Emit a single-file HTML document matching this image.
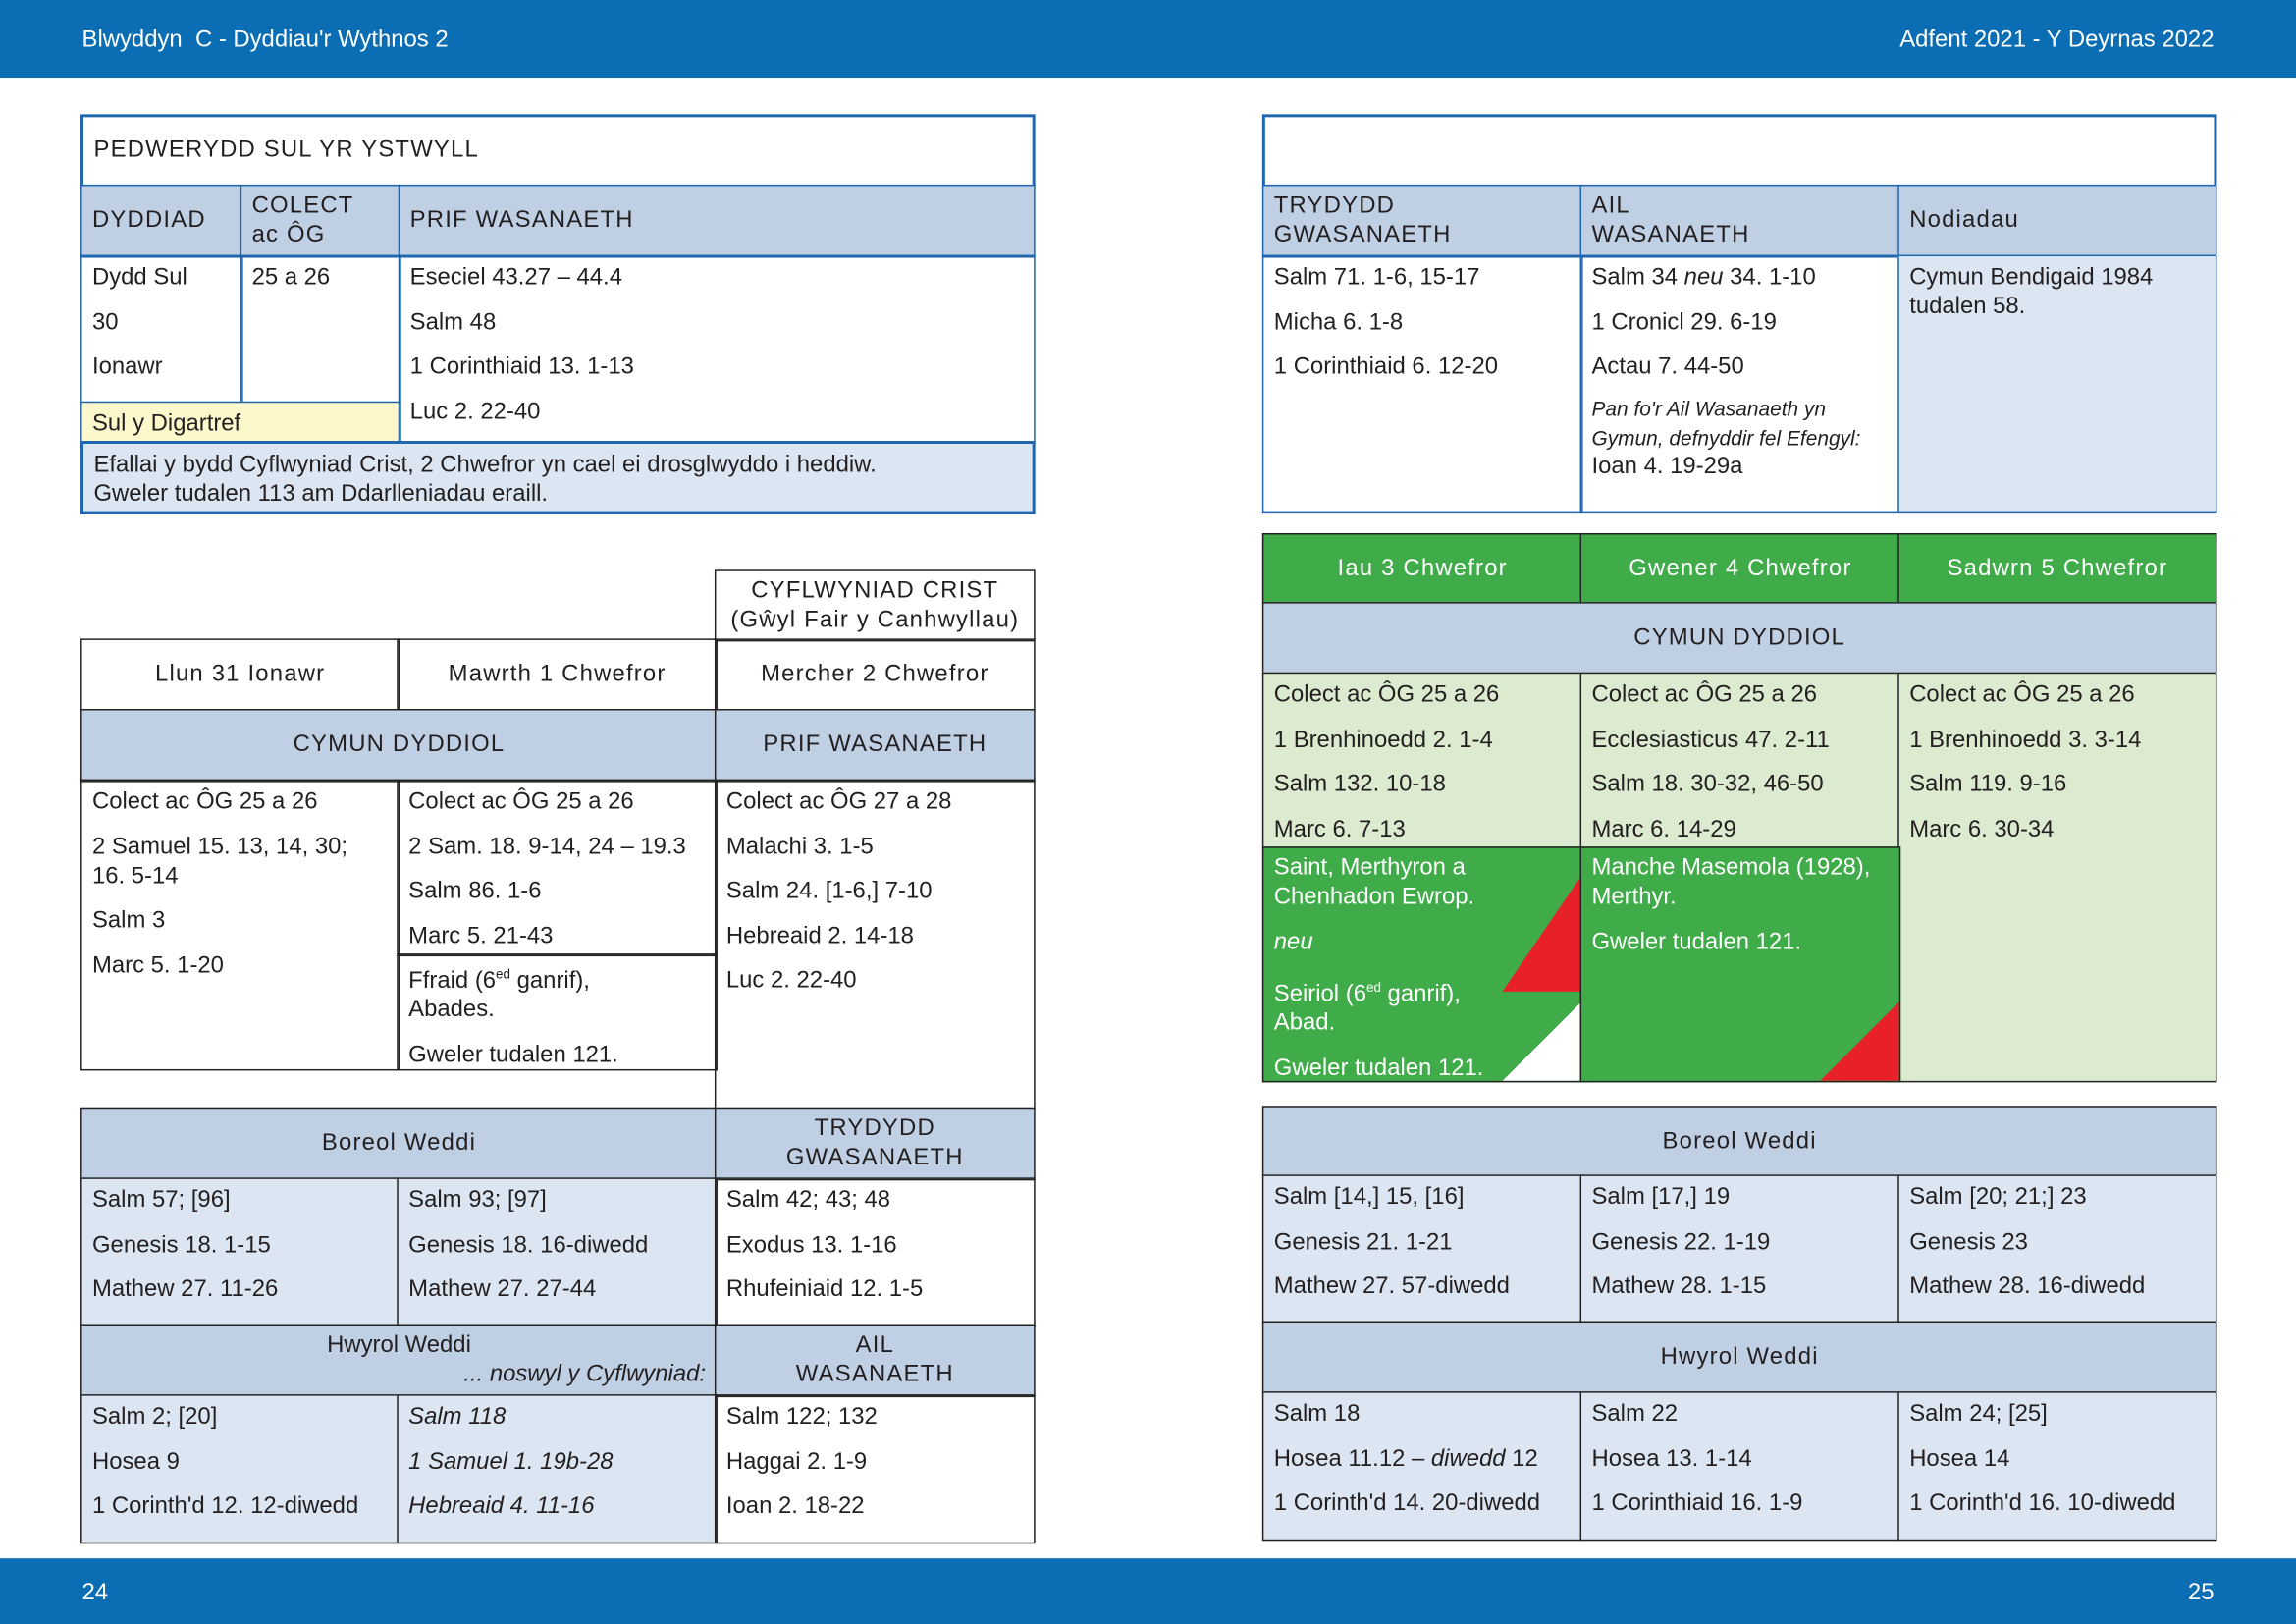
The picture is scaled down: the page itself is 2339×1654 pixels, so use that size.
<!DOCTYPE html>
<html><head><meta charset="utf-8">
<style>
html,body{margin:0;padding:0;}
body{width:2339px;height:1654px;overflow:hidden;background:#fff;font-family:"Liberation Sans",sans-serif;}
#w{position:absolute;left:0;top:0;width:1568px;height:1109px;transform:scale(1.49171);transform-origin:0 0;}
.bar{position:absolute;left:0;width:1568px;background:#0b6db4;color:#fff;font-size:16px;}
.c{position:absolute;box-sizing:border-box;border:1.5px solid #222;font-size:16px;color:#231f20;padding:5px 7px 0 7px;}
.b{border-color:#1f66b0;}
.c div{line-height:20px;margin-bottom:10.5px;white-space:nowrap;}
.h{display:flex;align-items:center;letter-spacing:0.8px;padding-top:0;}
.ctr{justify-content:center;text-align:center;}
.h div{margin:0;}
.lb{background:#c0d0e4;}
.lb2{background:#dce6f2;}
.lg{background:#dceacf;}
.g{background:#3fac49;color:#fff;}
.y{background:#fdf7cc;}
i{font-style:italic;}
.sm{font-size:14px;line-height:20px;}
</style></head><body>
<div id="w">
<div class="bar" style="top:0;height:53px;">
 <span style="position:absolute;left:56px;top:19px;">Blwyddyn&nbsp; C - Dyddiau'r Wythnos 2</span>
 <span style="position:absolute;right:56px;top:19px;">Adfent 2021 - Y Deyrnas 2022</span>
</div>
<div class="bar" style="top:1064px;height:45px;">
 <span style="position:absolute;left:56px;top:15px;">24</span>
 <span style="position:absolute;right:56px;top:15px;">25</span>
</div>

<div class="c b h" style="left:55px;top:78px;width:652px;height:50px;border-width:2px;"><div>PEDWERYDD SUL YR YSTWYLL</div></div>
<div class="c b h lb" style="left:55px;top:126px;width:111px;height:50px;"><div>DYDDIAD</div></div>
<div class="c b h lb" style="left:164px;top:126px;width:110px;height:50px;"><div>COLECT<br>ac ÔG</div></div>
<div class="c b h lb" style="left:272px;top:126px;width:435px;height:50px;"><div>PRIF WASANAETH</div></div>
<div class="c b" style="left:55px;top:174px;width:111px;height:102px;"><div>Dydd Sul</div><div>30</div><div>Ionawr</div></div>
<div class="c b" style="left:164px;top:174px;width:110px;height:102px;"><div>25 a 26</div></div>
<div class="c b y" style="left:55px;top:274px;width:219px;height:29px;padding-top:5px;"><div>Sul y Digartref</div></div>
<div class="c b" style="left:272px;top:174px;width:435px;height:129px;"><div>Eseciel 43.27 – 44.4</div><div>Salm 48</div><div>1 Corinthiaid 13. 1-13</div><div>Luc 2. 22-40</div></div>
<div class="c b lb2" style="left:55px;top:301px;width:652px;height:50px;border-width:2px;padding-top:5px;"><div style="line-height:20px;margin:0;">Efallai y bydd Cyflwyniad Crist, 2 Chwefror yn cael ei drosglwyddo i heddiw.<br>Gweler tudalen 113 am Ddarlleniadau eraill.</div></div>

<div class="c b" style="left:862px;top:78px;width:652px;height:50px;border-width:2px;"></div>
<div class="c b h lb" style="left:862px;top:126px;width:219px;height:50px;"><div>TRYDYDD<br>GWASANAETH</div></div>
<div class="c b h lb" style="left:1079px;top:126px;width:219px;height:50px;"><div>AIL<br>WASANAETH</div></div>
<div class="c b h lb" style="left:1296px;top:126px;width:218px;height:50px;"><div>Nodiadau</div></div>
<div class="c b" style="left:862px;top:174px;width:219px;height:176px;"><div>Salm 71. 1-6, 15-17</div><div>Micha 6. 1-8</div><div>1 Corinthiaid 6. 12-20</div></div>
<div class="c b" style="left:1079px;top:174px;width:219px;height:176px;"><div>Salm 34 <i>neu</i> 34. 1-10</div><div>1 Cronicl 29. 6-19</div><div>Actau 7. 44-50</div><div class="sm" style="margin:-3px 0 0;"><i>Pan fo'r Ail Wasanaeth yn<br>Gymun, defnyddir fel Efengyl:</i></div><div>Ioan 4. 19-29a</div></div>
<div class="c b lb2" style="left:1296px;top:174px;width:218px;height:176px;"><div style="line-height:20px;">Cymun Bendigaid 1984<br>tudalen 58.</div></div>

<div class="c h ctr" style="left:488px;top:389px;width:219px;height:49px;"><div style="line-height:20px;">CYFLWYNIAD CRIST<br>(Gŵyl Fair y Canhwyllau)</div></div>
<div class="c h ctr" style="left:55px;top:436px;width:218px;height:50px;"><div>Llun 31 Ionawr</div></div>
<div class="c h ctr" style="left:271px;top:436px;width:219px;height:50px;"><div>Mawrth 1 Chwefror</div></div>
<div class="c h ctr" style="left:488px;top:436px;width:219px;height:50px;"><div>Mercher 2 Chwefror</div></div>
<div class="c h ctr lb" style="left:55px;top:484px;width:435px;height:50px;"><div>CYMUN DYDDIOL</div></div>
<div class="c h ctr lb" style="left:488px;top:484px;width:219px;height:50px;"><div>PRIF WASANAETH</div></div>
<div class="c" style="left:55px;top:532px;width:218px;height:199px;"><div>Colect ac ÔG 25 a 26</div><div>2 Samuel 15. 13, 14, 30;<br>16. 5-14</div><div>Salm 3</div><div>Marc 5. 1-20</div></div>
<div class="c" style="left:271px;top:532px;width:219px;height:121px;"><div>Colect ac ÔG 25 a 26</div><div>2 Sam. 18. 9-14, 24 – 19.3</div><div>Salm 86. 1-6</div><div>Marc 5. 21-43</div></div>
<div class="c" style="left:271px;top:651px;width:219px;height:80px;padding-top:3px;"><div>Ffraid (6<sup style="font-size:9px;">ed</sup> ganrif),<br>Abades.</div><div>Gweler tudalen 121.</div></div>
<div class="c" style="left:488px;top:532px;width:219px;height:226px;"><div>Colect ac ÔG 27 a 28</div><div>Malachi 3. 1-5</div><div>Salm 24. [1-6,] 7-10</div><div>Hebreaid 2. 14-18</div><div>Luc 2. 22-40</div></div>

<div class="c h ctr lb" style="left:55px;top:756px;width:435px;height:50px;"><div>Boreol Weddi</div></div>
<div class="c h ctr lb" style="left:488px;top:756px;width:219px;height:50px;"><div style="line-height:20px;">TRYDYDD<br>GWASANAETH</div></div>
<div class="c lb2" style="left:55px;top:804px;width:218px;height:102px;"><div>Salm 57; [96]</div><div>Genesis 18. 1-15</div><div>Mathew 27. 11-26</div></div>
<div class="c lb2" style="left:271px;top:804px;width:219px;height:102px;"><div>Salm 93; [97]</div><div>Genesis 18. 16-diwedd</div><div>Mathew 27. 27-44</div></div>
<div class="c" style="left:488px;top:804px;width:219px;height:102px;"><div>Salm 42; 43; 48</div><div>Exodus 13. 1-16</div><div>Rhufeiniaid 12. 1-5</div></div>
<div class="c lb" style="left:55px;top:904px;width:435px;height:50px;padding-top:4px;"><div style="margin:0;text-align:center;">Hwyrol Weddi</div><div style="margin:0;text-align:right;"><i>... noswyl y Cyflwyniad:</i></div></div>
<div class="c h ctr lb" style="left:488px;top:904px;width:219px;height:50px;"><div style="line-height:20px;">AIL<br>WASANAETH</div></div>
<div class="c lb2" style="left:55px;top:952px;width:218px;height:102px;"><div>Salm 2; [20]</div><div>Hosea 9</div><div>1 Corinth'd 12. 12-diwedd</div></div>
<div class="c lb2" style="left:271px;top:952px;width:219px;height:102px;"><div><i>Salm 118</i></div><div><i>1 Samuel 1. 19b-28</i></div><div><i>Hebreaid 4. 11-16</i></div></div>
<div class="c" style="left:488px;top:952px;width:219px;height:102px;"><div>Salm 122; 132</div><div>Haggai 2. 1-9</div><div>Ioan 2. 18-22</div></div>

<div class="c h ctr g" style="left:862px;top:364px;width:219px;height:49px;"><div>Iau 3 Chwefror</div></div>
<div class="c h ctr g" style="left:1079px;top:364px;width:219px;height:49px;"><div>Gwener 4 Chwefror</div></div>
<div class="c h ctr g" style="left:1296px;top:364px;width:218px;height:49px;"><div>Sadwrn 5 Chwefror</div></div>
<div class="c h ctr lb" style="left:862px;top:411px;width:652px;height:50px;"><div>CYMUN DYDDIOL</div></div>
<div class="c lg" style="left:862px;top:459px;width:219px;height:121px;"><div>Colect ac ÔG 25 a 26</div><div>1 Brenhinoedd 2. 1-4</div><div>Salm 132. 10-18</div><div>Marc 6. 7-13</div></div>
<div class="c lg" style="left:1079px;top:459px;width:219px;height:121px;"><div>Colect ac ÔG 25 a 26</div><div>Ecclesiasticus 47. 2-11</div><div>Salm 18. 30-32, 46-50</div><div>Marc 6. 14-29</div></div>
<div class="c lg" style="left:1296px;top:459px;width:218px;height:280px;"><div>Colect ac ÔG 25 a 26</div><div>1 Brenhinoedd 3. 3-14</div><div>Salm 119. 9-16</div><div>Marc 6. 30-34</div></div>
<div class="c g" style="left:862px;top:578px;width:219px;height:161px;overflow:hidden;padding-top:4px;">
 <svg style="position:absolute;right:0;bottom:0;" width="60" height="160"><polygon points="60,20 60,99 6,99" fill="#e8202a"/><polygon points="60,106 60,160 6,160" fill="#fff"/></svg>
 <div style="position:relative;">Saint, Merthyron a<br>Chenhadon Ewrop.</div><div style="position:relative;"><i>neu</i></div><div style="position:relative;">Seiriol (6<sup style="font-size:9px;">ed</sup> ganrif),<br>Abad.</div><div style="position:relative;">Gweler tudalen 121.</div></div>
<div class="c g" style="left:1079px;top:578px;width:219px;height:161px;overflow:hidden;padding-top:4px;">
 <svg style="position:absolute;right:0;bottom:0;" width="60" height="60"><polygon points="60,6 60,60 6,60" fill="#e8202a"/></svg>
 <div>Manche Masemola (1928),<br>Merthyr.</div><div>Gweler tudalen 121.</div></div>

<div class="c h ctr lb" style="left:862px;top:755px;width:652px;height:49px;"><div>Boreol Weddi</div></div>
<div class="c lb2" style="left:862px;top:802px;width:219px;height:102px;"><div>Salm [14,] 15, [16]</div><div>Genesis 21. 1-21</div><div>Mathew 27. 57-diwedd</div></div>
<div class="c lb2" style="left:1079px;top:802px;width:219px;height:102px;"><div>Salm [17,] 19</div><div>Genesis 22. 1-19</div><div>Mathew 28. 1-15</div></div>
<div class="c lb2" style="left:1296px;top:802px;width:218px;height:102px;"><div>Salm [20; 21;] 23</div><div>Genesis 23</div><div>Mathew 28. 16-diwedd</div></div>
<div class="c h ctr lb" style="left:862px;top:902px;width:652px;height:50px;"><div>Hwyrol Weddi</div></div>
<div class="c lb2" style="left:862px;top:950px;width:219px;height:102px;"><div>Salm 18</div><div>Hosea 11.12 – <i>diwedd</i> 12</div><div>1 Corinth'd 14. 20-diwedd</div></div>
<div class="c lb2" style="left:1079px;top:950px;width:219px;height:102px;"><div>Salm 22</div><div>Hosea 13. 1-14</div><div>1 Corinthiaid 16. 1-9</div></div>
<div class="c lb2" style="left:1296px;top:950px;width:218px;height:102px;"><div>Salm 24; [25]</div><div>Hosea 14</div><div>1 Corinth'd 16. 10-diwedd</div></div>
</div>
</body></html>
